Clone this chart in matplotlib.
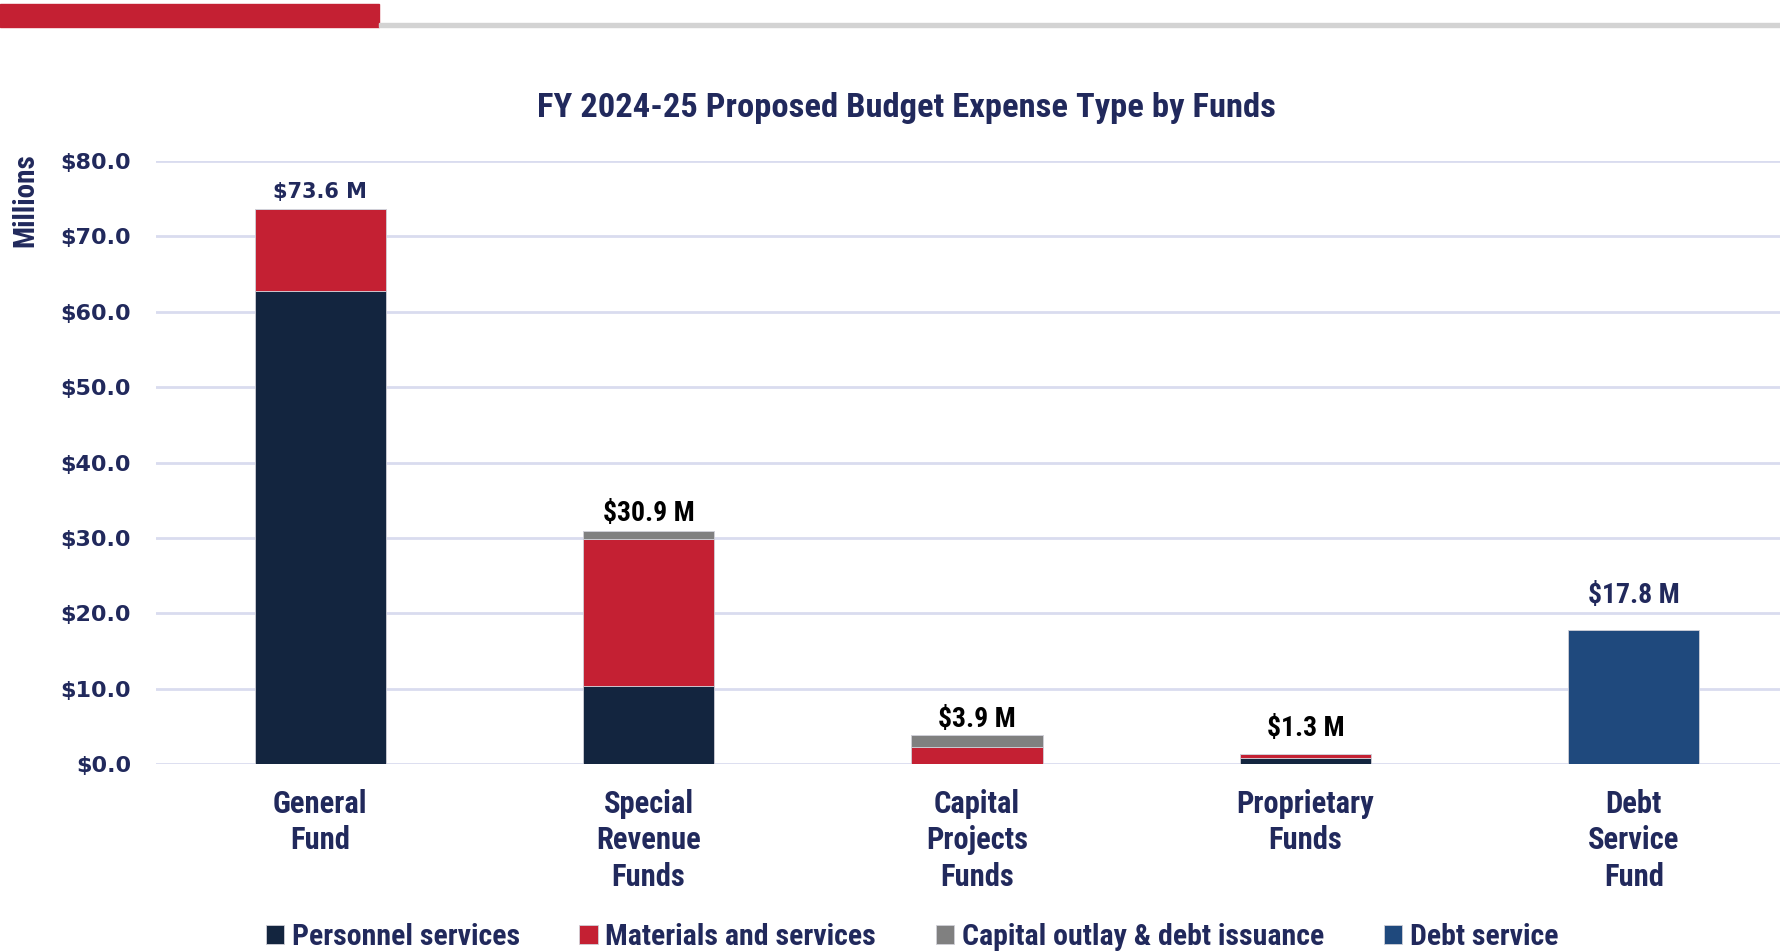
import matplotlib
matplotlib.use("Agg")
import matplotlib.pyplot as plt
import numpy as np
from matplotlib.patches import Rectangle

# budget by fund, millions of dollars
funds = ["General\nFund", "Special\nRevenue\nFunds", "Capital\nProjects\nFunds",
         "Proprietary\nFunds", "Debt\nService\nFund"]
personnel = [62.8, 10.4, 0.0, 0.8, 0.0]
materials = [10.8, 19.4, 2.2, 0.5, 0.0]
capital = [0.0, 1.1, 1.7, 0.0, 0.0]
debt_service = [0.0, 0.0, 0.0, 0.0, 17.8]
series_names = ["Personnel services", "Materials and services",
                "Capital outlay & debt issuance", "Debt service"]
yticks = [0, 10, 20, 30, 40, 50, 60, 70, 80]

NAVY_TXT = "#21295C"
colors = ["#13253F", "#C42033", "#808080", "#1F497D"]
COND = ["Roboto Condensed", "DejaVu Sans"]
WIDE = ["DejaVu Sans"]

fig = plt.figure(figsize=(17.8, 9.51), dpi=100)
ax = fig.add_axes([156 / 1780, 187 / 951, (1798 - 156) / 1780, 603 / 951])

x = np.arange(len(funds))
width = 0.40
bottom = np.zeros(len(funds))
for vals, name, col in zip([personnel, materials, capital, debt_service], series_names, colors):
    v = np.array(vals)
    ax.bar(x, v, width, bottom=bottom, color=col, label=name,
           edgecolor="#D0D0D8", linewidth=0.6, zorder=3)
    bottom += v

# total labels above each stack
totals = bottom
label_colors = [NAVY_TXT, "black", "black", "black", NAVY_TXT]
label_fonts = [WIDE, COND, COND, COND, COND]
label_sizes = [15, 20, 20, 20, 20]
label_lift = [5, 3, 1.5, 9, 15]
for xi, t, c, f, s, dy in zip(x, totals, label_colors, label_fonts, label_sizes, label_lift):
    ax.annotate(f"${t:.1f} M", (xi, t), xytext=(0, dy), textcoords="offset points",
                ha="center", va="bottom", fontsize=s, fontweight="bold",
                color=c, family=f)

ax.set_xlim(-0.5, len(funds) - 0.5)
ax.set_ylim(0, 80)
ax.set_yticks(yticks)
ax.set_yticklabels([f"${v:.1f}" for v in yticks], fontsize=16, fontweight="bold",
                   color=NAVY_TXT, family=WIDE)
ax.set_xticks(x)
ax.set_xticklabels(funds, fontsize=22, fontweight="bold", color=NAVY_TXT,
                   family=COND, linespacing=1.27)
ax.tick_params(axis="both", length=0)
ax.tick_params(axis="x", pad=18)
ax.tick_params(axis="y", pad=18)
ax.grid(axis="y", color="#D9DCEF", linewidth=2, zorder=0)
for sp in ax.spines.values():
    sp.set_visible(False)

fig.text(25 / 1780, 1 - 200 / 951, "Millions", rotation=90, ha="center", va="center",
         fontsize=21, fontweight="bold", color=NAVY_TXT, family=COND)
fig.text(906 / 1780, 1 - 108 / 951, "FY 2024-25 Proposed Budget Expense Type by Funds",
         ha="center", va="center", fontsize=24.8, fontweight="bold",
         color=NAVY_TXT, family=COND)

# header accent bar
fig.patches.append(Rectangle((0, 1 - 27 / 951), 379 / 1780, 23 / 951,
                             transform=fig.transFigure, color="#C42033", zorder=5))
fig.patches.append(Rectangle((379 / 1780, 1 - 27 / 951), 1 - 379 / 1780, 4 / 951,
                             transform=fig.transFigure, color="#D3D3D3", zorder=5))

leg = fig.legend(loc="center", bbox_to_anchor=(912 / 1780, 14 / 951), ncol=4,
                 frameon=False, handlelength=0.62, handleheight=0.62,
                 handletextpad=0.25, columnspacing=2.0,
                 prop={"family": COND, "weight": "bold", "size": 21.5})
for txt in leg.get_texts():
    txt.set_color(NAVY_TXT)

fig.savefig("out.png", dpi=100)
